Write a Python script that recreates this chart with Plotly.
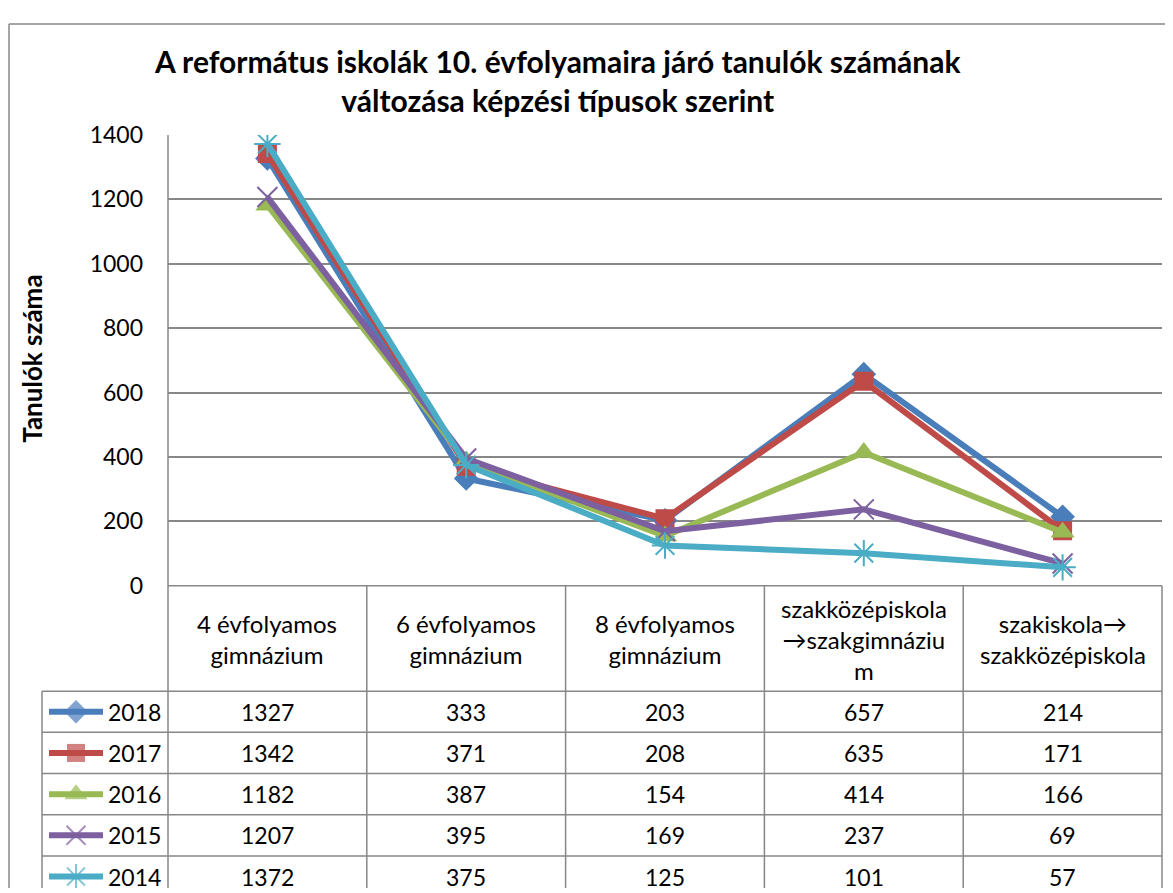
import plotly.graph_objects as go

# ---------------- data ----------------
categories = ["4 évfolyamos<br>gimnázium", "6 évfolyamos<br>gimnázium", "8 évfolyamos<br>gimnázium",
              "szakközépiskola<br>→szakgimnáziu<br>m", "szakiskola→<br>szakközépiskola"]
years = ["2018", "2017", "2016", "2015", "2014"]
v2018 = [1327, 333, 203, 657, 214]
v2017 = [1342, 371, 208, 635, 171]
v2016 = [1182, 387, 154, 414, 166]
v2015 = [1207, 395, 169, 237, 69]
v2014 = [1372, 375, 125, 101, 57]
series_values = [v2018, v2017, v2016, v2015, v2014]
y_ticks = [0, 200, 400, 600, 800, 1000, 1200, 1400]

title_text = "A református iskolák 10. évfolyamaira járó tanulók számának<br>változása képzési típusok szerint"
y_title = "Tanulók száma"

# ---------------- styles ----------------
W, H = 1173, 893
colors = ["#4A7EBB", "#BE4B48", "#98B954", "#7D60A0", "#4BACC6"]
symbols = ["diamond", "square", "triangle-up", "x-thin-open", "asterisk-open"]
msizes = [19, 19, 21, 20, 22]
FONT = "Lato"
GRID = "#878787"
LW = 6

# mapping from target picture pixels to figure pixels (page offset compensation)
def tx(x):
    return x - 8

def ty(y):
    return (y - 20.5) / 0.9735

PX_L, PX_R = tx(168), tx(1162)
PX_T, PX_B = ty(133), ty(586)
col_edges = [PX_L + i * (PX_R - PX_L) / 5 for i in range(6)]
header_bottom = ty(692)
row_lines = [ty(692 + i * 41.4) for i in range(6)]
legend_left = tx(42)

fig = go.Figure()

n = len(categories)
xs = list(range(n))
for yr, vals, c, s, ms in zip(years, series_values, colors, symbols, msizes):
    open_sym = s.endswith("open")
    fig.add_trace(go.Scatter(
        x=xs, y=vals, mode="lines+markers", name=yr,
        line=dict(color=c, width=LW),
        marker=dict(symbol=s, size=ms, color=c,
                    line=dict(color=c, width=2 if open_sym else 0)),
        showlegend=False, hoverinfo="skip"))

# legend keys inside the data table (pixel axis)
for i, (yr, c, s, ms) in enumerate(zip(years, colors, symbols, msizes)):
    yc = (row_lines[i] + row_lines[i + 1]) / 2
    open_sym = s.endswith("open")
    fig.add_trace(go.Scatter(
        x=[tx(49), tx(76), tx(103)], y=[yc, yc, yc], xaxis="x2", yaxis="y2",
        mode="lines+markers", line=dict(color=c, width=LW),
        marker=dict(symbol=s, size=[0, ms - 1, 0], color=c,
                    line=dict(color=c, width=2 if open_sym else 0)),
        showlegend=False, hoverinfo="skip"))

shapes = []
def line(x0, y0, x1, y1, w=1.5):
    shapes.append(dict(type="line", xref="x2", yref="y2", x0=x0, y0=y0, x1=x1, y1=y1,
                       line=dict(color=GRID, width=w), layer="below"))

BOTTOM = H + 10
# outer frame
line(1, 1, W + 10, 1)
line(1, 1, 1, BOTTOM)
# y axis line
line(PX_L, PX_T, PX_L, PX_B)
# table verticals
for xe in col_edges:
    line(xe, PX_B, xe, BOTTOM)
line(legend_left, header_bottom, legend_left, BOTTOM)
# table horizontals
line(PX_L, PX_B, PX_R, PX_B)
for yl in row_lines:
    line(legend_left, yl, PX_R, yl)

annotations = []
# header labels
for i, cat in enumerate(categories):
    xc = (col_edges[i] + col_edges[i + 1]) / 2
    annotations.append(dict(xref="x2", yref="y2", x=xc, y=(PX_B + header_bottom) / 2 + 1,
                            text=cat, showarrow=False, xanchor="center", yanchor="middle",
                            font=dict(family=FONT, size=24, color="#000000")))
# values and year labels
for r, (yr, vals) in enumerate(zip(years, series_values)):
    yc = (row_lines[r] + row_lines[r + 1]) / 2
    annotations.append(dict(xref="x2", yref="y2", x=tx(106), y=yc, text=yr, showarrow=False,
                            xanchor="left", yanchor="middle",
                            font=dict(family=FONT, size=23, color="#000000")))
    for i, v in enumerate(vals):
        xc = (col_edges[i] + col_edges[i + 1]) / 2
        annotations.append(dict(xref="x2", yref="y2", x=xc, y=yc, text=str(v), showarrow=False,
                                xanchor="center", yanchor="middle",
                                font=dict(family=FONT, size=23, color="#000000")))
# title
annotations.append(dict(xref="x2", yref="y2", x=tx(557), y=ty(78), text="<b>" + title_text + "</b>",
                        showarrow=False, xanchor="center", yanchor="middle",
                        font=dict(family=FONT, size=30, color="#000000")))
# y title
annotations.append(dict(xref="x2", yref="y2", x=tx(32), y=ty(358), text="<b>" + y_title + "</b>",
                        showarrow=False, textangle=-90, xanchor="center", yanchor="middle",
                        font=dict(family=FONT, size=26, color="#000000")))

fig.update_layout(
    width=W, height=H,
    margin=dict(l=0, r=0, t=0, b=0),
    paper_bgcolor="white", plot_bgcolor="rgba(0,0,0,0)",
    font=dict(family=FONT, size=23, color="#000000"),
    xaxis=dict(domain=[PX_L / W, PX_R / W], range=[-0.5, n - 0.5],
               showticklabels=False, showgrid=False, zeroline=False, showline=False, ticks=""),
    yaxis=dict(domain=[1 - PX_B / H, 1 - PX_T / H], range=[0, 1400],
               tickvals=y_ticks, ticktext=[str(t) for t in y_ticks],
               showgrid=True, gridcolor=GRID, gridwidth=1.5, zeroline=False, showline=False,
               ticks="", ticklabelstandoff=24, tickfont=dict(family=FONT, size=23)),
    xaxis2=dict(domain=[0, 1], range=[0, W], anchor="y2", visible=False, fixedrange=True),
    yaxis2=dict(domain=[0, 1], range=[H, 0], anchor="x2", visible=False, fixedrange=True),
    shapes=shapes,
    annotations=annotations,
)

fig.write_html("out.html")
